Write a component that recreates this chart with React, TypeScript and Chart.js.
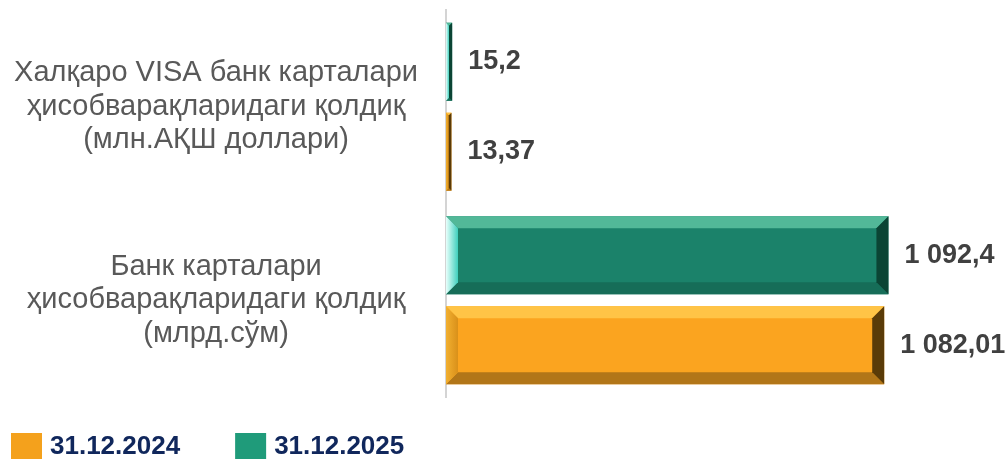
import React, { useEffect, useRef } from "react";
import { Chart, registerables } from "chart.js";
Chart.register(...registerables);

const categories = [
  ["Халқаро VISA банк карталари", "ҳисобварақларидаги қолдиқ", "(млн.АҚШ доллари)"],
  ["Банк карталари", "ҳисобварақларидаги қолдиқ", "(млрд.сўм)"],
];
const seriesNames = ["31.12.2025", "31.12.2024"];
const values2025 = [15.2, 1092.4];
const values2024 = [13.37, 1082.01];
const barColors = ["#1b826a", "#fba41f"];
const legendColors = ["#1f9b7a", "#f4a11c"];
const legendOrder = [1, 0];
const xMax = 1200;

const bevelColors = [
  { top: "#52b898", left0: "#e8fffb", left1: "#3fcfbd", bottom: "#166d58", right: "#0b4434" },
  { top: "#ffc446", left0: "#f2b030", left1: "#d9901a", bottom: "#b27618", right: "#5a3b08" },
];

function fmt(v: number) {
  const [i, d] = String(v).split(".");
  const g = i.replace(/\B(?=(\d{3})+(?!\d))/g, " ");
  return d ? g + "," + d : g;
}

const FONT = "'Liberation Sans', Arial, sans-serif";

const bevelPlugin = {
  id: "bevelAndLabels",
  afterDatasetsDraw(chart: any) {
    const ctx = chart.ctx;
    chart.data.datasets.forEach((ds: any, di: number) => {
      const meta = chart.getDatasetMeta(di);
      const bc = bevelColors[di];
      meta.data.forEach((el: any, i: number) => {
        const { x, y, base, height } = el.getProps(["x", "y", "base", "height"], true);
        const l = Math.min(base, x);
        const r = Math.max(base, x);
        const t = y - height / 2;
        const bt = y + height / 2;
        const b = Math.min(12, (r - l) / 2, height / 2);
        ctx.save();
        const poly = (pts: number[][], fill: any) => {
          ctx.beginPath();
          ctx.moveTo(pts[0][0], pts[0][1]);
          for (let k = 1; k < pts.length; k++) ctx.lineTo(pts[k][0], pts[k][1]);
          ctx.closePath();
          ctx.fillStyle = fill;
          ctx.fill();
        };
        poly([[l, t], [r, t], [r - b, t + b], [l + b, t + b]], bc.top);
        poly([[l, bt], [r, bt], [r - b, bt - b], [l + b, bt - b]], bc.bottom);
        const g = ctx.createLinearGradient(l, 0, l + b, 0);
        g.addColorStop(0, bc.left0);
        g.addColorStop(1, bc.left1);
        poly([[l, t], [l + b, t + b], [l + b, bt - b], [l, bt]], g);
        poly([[r, t], [r - b, t + b], [r - b, bt - b], [r, bt]], bc.right);
        ctx.restore();

        ctx.save();
        ctx.font = `bold 27px ${FONT}`;
        ctx.fillStyle = "#404040";
        ctx.textAlign = "left";
        ctx.textBaseline = "middle";
        ctx.fillText(fmt(ds.data[i]), r + 16, y);
        ctx.restore();
      });
    });
  },
  afterDraw(chart: any) {
    const ctx = chart.ctx;
    ctx.save();
    ctx.font = `bold 26px ${FONT}`;
    ctx.textBaseline = "middle";
    ctx.textAlign = "left";
    let xPos = 11;
    const yTop = 433;
    legendOrder.forEach((di) => {
      ctx.fillStyle = legendColors[di];
      ctx.fillRect(xPos, yTop, 31, 26);
      ctx.fillStyle = "#10275c";
      const txt = chart.data.datasets[di].label;
      ctx.fillText(txt, xPos + 39, yTop + 14);
      xPos += 39 + ctx.measureText(txt).width + 55;
    });
    ctx.restore();
  },
};

export default function App() {
  const ref = useRef<HTMLCanvasElement | null>(null);
  useEffect(() => {
    document.body.style.margin = "0";
    const chart = new Chart(ref.current as HTMLCanvasElement, {
      type: "bar",
      data: {
        labels: categories,
        datasets: [
          {
            label: seriesNames[0],
            data: values2025,
            backgroundColor: barColors[0],
            barPercentage: 0.867,
            categoryPercentage: 0.93,
          },
          {
            label: seriesNames[1],
            data: values2024,
            backgroundColor: barColors[1],
            barPercentage: 0.867,
            categoryPercentage: 0.93,
          },
        ],
      },
      options: {
        indexAxis: "y",
        animation: false,
        responsive: true,
        maintainAspectRatio: false,
        layout: { padding: { left: 0, top: 10, right: 76, bottom: 63 } },
        plugins: { legend: { display: false }, tooltip: { enabled: false } },
        scales: {
          x: { display: false, min: 0, max: xMax },
          y: {
            grid: { display: false, drawTicks: false },
            border: { display: true, color: "#d4d4d4", width: 2 },
            ticks: {
              crossAlign: "center",
              padding: 28,
              color: "#595959",
              font: { family: FONT, size: 29, lineHeight: 1.16 },
            },
            afterFit: (scale: any) => {
              scale.width = 446;
              scale.paddingTop = 0;
              scale.paddingBottom = 0;
            },
          },
        },
      },
      plugins: [bevelPlugin],
    } as any);
    return () => chart.destroy();
  }, []);
  return (
    <div style={{ width: 1008, height: 460, position: "relative" }}>
      <canvas ref={ref} />
    </div>
  );
}
